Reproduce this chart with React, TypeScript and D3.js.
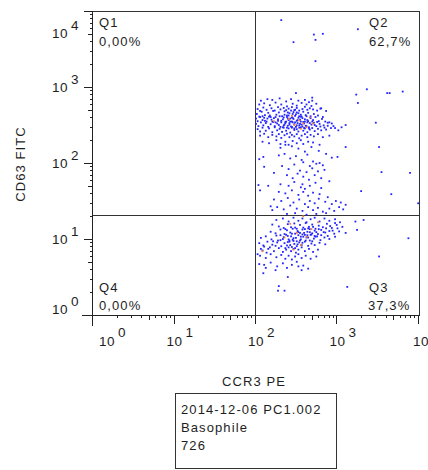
import React from "react";
import * as d3 from "d3";

// ---------- chart text ----------
const xTitle = "CCR3 PE";
const yTitle = "CD63 FITC";
const quadrantNames = ["Q1", "Q2", "Q3", "Q4"];
const quadrantPercents = ["0,00%", "62,7%", "37,3%", "0,00%"];
const infoLines = ["2014-12-06 PC1.002", "Basophile", "726"];

// ---------- axes ----------
const xDecades = [0, 1, 2, 3, 4];
const yDecades = [0, 1, 2, 3, 4];
const gateX = 97; // CCR3 PE quadrant gate
const gateY = 20.7; // CD63 FITC quadrant gate

// ---------- events, as log10 exponents [CCR3 PE, CD63 FITC] ----------
const sparseEvents: [number, number][] = [
  [2.31, 3.88], [3.25, 3.76], [2.71, 3.69], [2.82, 3.70], [2.46, 3.59], [2.73, 3.62],
  [2.73, 3.34], [2.49, 2.92], [3.36, 2.97], [3.23, 2.90], [3.61, 2.92], [3.64, 2.92],
  [3.80, 2.94], [3.25, 2.79], [2.69, 2.82], [3.47, 2.53], [3.10, 2.21], [3.51, 2.21],
  [2.09, 2.08], [3.54, 1.88], [3.89, 1.87], [2.22, 1.87], [2.03, 1.71], [3.29, 1.63],
  [3.66, 1.59], [3.99, 1.47], [2.18, 1.43], [2.20, 1.38], [2.05, 1.64], [3.32, 1.25],
  [3.22, 1.23], [3.87, 1.01], [3.24, 1.12], [3.51, 0.77], [3.12, 0.37], [2.28, 0.38],
  [2.35, 0.32], [2.27, 0.32], [2.39, 0.50], [2.04, 0.67], [2.09, 0.55], [2.12, 0.62],
  [2.24, 0.59], [2.52, 0.64], [2.56, 0.59],
];

const upperEvents: [number, number][] = [
  [2.06, 2.82], [2.14, 2.84], [2.20, 2.83], [2.29, 2.85], [2.37, 2.81], [2.43, 2.84], [2.52, 2.82], [2.60, 2.83], [2.65, 2.80], [2.69, 2.86],
  [2.04, 2.77], [2.10, 2.785], [2.17, 2.76], [2.24, 2.795], [2.31, 2.77], [2.38, 2.745], [2.45, 2.78], [2.50, 2.755], [2.56, 2.79], [2.62, 2.77], [2.68, 2.75], [2.74, 2.78], [2.80, 2.72],
  [2.02, 2.71], [2.05, 2.685], [2.09, 2.73], [2.13, 2.70], [2.19, 2.72], [2.23, 2.69], [2.27, 2.735], [2.30, 2.705], [2.34, 2.725], [2.37, 2.695], [2.40, 2.715], [2.44, 2.735],
  [2.47, 2.695], [2.50, 2.725], [2.53, 2.69], [2.57, 2.71], [2.60, 2.74], [2.63, 2.70], [2.66, 2.72], [2.70, 2.705], [2.75, 2.69], [2.79, 2.715], [2.86, 2.685],
  [2.01, 2.645], [2.04, 2.61], [2.07, 2.675], [2.11, 2.63], [2.15, 2.66], [2.18, 2.605], [2.21, 2.685], [2.25, 2.635], [2.28, 2.665], [2.32, 2.615], [2.35, 2.68], [2.38, 2.625],
  [2.41, 2.655], [2.44, 2.60], [2.46, 2.67], [2.49, 2.64], [2.52, 2.655], [2.55, 2.61], [2.58, 2.675], [2.61, 2.63], [2.64, 2.66], [2.67, 2.615], [2.71, 2.645], [2.76, 2.625], [2.82, 2.605],
  [2.00, 2.585], [2.02, 2.55], [2.05, 2.605], [2.08, 2.565], [2.10, 2.595], [2.13, 2.545], [2.16, 2.61], [2.19, 2.57], [2.22, 2.59], [2.24, 2.535], [2.27, 2.575], [2.29, 2.615],
  [2.31, 2.555], [2.34, 2.60], [2.36, 2.54], [2.38, 2.605], [2.40, 2.565], [2.42, 2.585], [2.44, 2.545], [2.46, 2.58], [2.48, 2.62], [2.50, 2.555], [2.52, 2.595], [2.54, 2.57],
  [2.56, 2.61], [2.58, 2.54], [2.60, 2.575], [2.62, 2.615], [2.64, 2.55], [2.67, 2.59], [2.70, 2.565], [2.73, 2.605], [2.77, 2.55], [2.81, 2.58], [2.85, 2.545], [2.90, 2.535],
  [2.00, 2.515], [2.03, 2.485], [2.06, 2.535], [2.09, 2.495], [2.12, 2.525], [2.15, 2.475], [2.18, 2.51], [2.21, 2.54], [2.23, 2.485], [2.26, 2.52], [2.28, 2.50], [2.31, 2.535],
  [2.33, 2.47], [2.35, 2.505], [2.37, 2.545], [2.39, 2.49], [2.41, 2.525], [2.43, 2.48], [2.45, 2.535], [2.47, 2.51], [2.49, 2.475], [2.51, 2.525], [2.53, 2.495], [2.55, 2.545],
  [2.57, 2.48], [2.59, 2.52], [2.61, 2.49], [2.63, 2.535], [2.65, 2.47], [2.68, 2.505], [2.71, 2.53], [2.74, 2.485], [2.78, 2.515], [2.83, 2.495], [2.88, 2.53], [2.95, 2.485],
  [2.02, 2.445], [2.05, 2.415], [2.08, 2.465], [2.12, 2.425], [2.16, 2.455], [2.20, 2.405], [2.23, 2.47], [2.26, 2.43], [2.29, 2.45], [2.32, 2.41], [2.34, 2.465], [2.37, 2.425],
  [2.40, 2.455], [2.42, 2.40], [2.44, 2.465], [2.47, 2.435], [2.50, 2.445], [2.52, 2.415], [2.55, 2.47], [2.58, 2.425], [2.60, 2.455], [2.63, 2.405], [2.66, 2.44], [2.69, 2.46],
  [2.72, 2.42], [2.76, 2.45], [2.80, 2.43], [2.86, 2.44], [2.92, 2.46], [3.01, 2.43],
  [2.05, 2.36], [2.10, 2.385], [2.15, 2.34], [2.20, 2.37], [2.25, 2.35], [2.28, 2.38], [2.31, 2.33], [2.35, 2.365], [2.38, 2.385], [2.41, 2.34], [2.44, 2.37], [2.47, 2.35],
  [2.50, 2.38], [2.53, 2.325], [2.56, 2.36], [2.60, 2.38], [2.63, 2.34], [2.67, 2.37], [2.71, 2.35], [2.76, 2.38], [2.82, 2.34], [2.90, 2.36],
  [2.08, 2.28], [2.16, 2.26], [2.25, 2.30], [2.30, 2.25], [2.36, 2.28], [2.40, 2.24], [2.45, 2.29], [2.50, 2.26], [2.55, 2.30], [2.58, 2.25], [2.64, 2.28], [2.70, 2.27], [2.78, 2.24],
  [2.33, 2.575], [2.36, 2.525], [2.39, 2.585], [2.42, 2.545], [2.45, 2.595], [2.48, 2.535], [2.51, 2.565], [2.54, 2.515], [2.57, 2.59], [2.60, 2.545], [2.63, 2.565], [2.66, 2.525],
  [2.34, 2.495], [2.38, 2.465], [2.41, 2.505], [2.44, 2.475], [2.47, 2.455], [2.50, 2.495], [2.53, 2.465], [2.56, 2.505], [2.59, 2.46], [2.62, 2.485], [2.65, 2.455], [2.30, 2.475],
  [2.27, 2.555], [2.24, 2.605], [2.20, 2.545], [2.17, 2.625], [2.14, 2.585], [2.11, 2.555], [2.08, 2.615], [2.35, 2.635], [2.40, 2.625], [2.45, 2.645], [2.50, 2.665], [2.55, 2.635],
  [2.43, 2.69], [2.39, 2.665], [2.48, 2.70], [2.53, 2.615], [2.69, 2.545], [2.72, 2.50], [2.75, 2.54], [2.79, 2.48], [2.84, 2.465], [2.88, 2.49], [2.93, 2.52], [2.97, 2.46],
  [3.05, 2.47], [3.10, 2.50],
];

const streamEvents: [number, number][] = [
  [2.30, 2.20], [2.36, 2.24], [2.44, 2.22], [2.52, 2.19], [2.60, 2.15], [2.68, 2.21], [2.77, 2.16], [2.86, 2.12], [2.93, 2.07], [3.00, 2.08],
  [2.28, 2.10], [2.35, 2.12], [2.42, 2.06], [2.49, 2.09], [2.56, 2.04], [2.63, 2.11], [2.70, 2.02], [2.74, 1.99], [2.78, 2.00], [2.82, 1.97], [2.66, 1.96], [2.58, 2.01],
  [2.32, 1.96], [2.40, 1.92], [2.47, 1.98], [2.54, 1.90], [2.62, 1.88], [2.69, 1.93], [2.76, 1.89], [2.84, 1.91],
  [2.38, 1.84], [2.45, 1.80], [2.51, 1.86], [2.58, 1.82], [2.65, 1.78], [2.72, 1.84], [2.80, 1.80], [2.90, 1.76],
  [2.30, 1.72], [2.40, 1.70], [2.47, 1.75], [2.55, 1.68], [2.57, 1.72], [2.60, 1.66], [2.66, 1.70], [2.73, 1.74], [2.80, 1.67], [2.15, 1.70],
  [2.28, 1.62], [2.36, 1.60], [2.44, 1.64], [2.52, 1.58], [2.58, 1.62], [2.64, 1.57], [2.70, 1.61], [2.78, 1.59], [2.88, 1.55],
  [2.22, 1.52], [2.31, 1.50], [2.39, 1.54], [2.46, 1.48], [2.53, 1.52], [2.60, 1.46], [2.66, 1.50], [2.72, 1.47], [2.77, 1.53], [2.85, 1.49], [2.93, 1.46], [2.98, 1.50],
  [3.04, 1.48], [3.10, 1.45],
  [2.26, 1.42], [2.34, 1.39], [2.42, 1.44], [2.50, 1.40], [2.57, 1.37], [2.64, 1.42], [2.70, 1.38], [2.76, 1.41], [2.82, 1.36], [2.90, 1.40], [2.96, 1.37], [3.02, 1.42],
  [3.07, 1.39], [2.38, 1.33], [2.48, 1.34], [2.62, 1.32], [2.74, 1.33], [2.86, 1.34], [2.04, 2.05], [2.10, 1.95],
];

const lowerEvents: [number, number][] = [
  [2.25, 1.25], [2.33, 1.27], [2.40, 1.23], [2.46, 1.28], [2.52, 1.24], [2.57, 1.27], [2.62, 1.22], [2.67, 1.26], [2.72, 1.28], [2.78, 1.23], [2.84, 1.27], [2.90, 1.24],
  [2.97, 1.26], [3.03, 1.22],
  [2.28, 1.165], [2.34, 1.145], [2.39, 1.195], [2.43, 1.155], [2.47, 1.205], [2.50, 1.135], [2.54, 1.185], [2.58, 1.15], [2.61, 1.21], [2.65, 1.16], [2.69, 1.19], [2.73, 1.135],
  [2.77, 1.175], [2.82, 1.155], [2.87, 1.20], [2.93, 1.145], [2.99, 1.185], [3.06, 1.16], [2.20, 1.19],
  [2.18, 1.095], [2.24, 1.075], [2.30, 1.125], [2.35, 1.065], [2.38, 1.115], [2.42, 1.085], [2.45, 1.135], [2.48, 1.07], [2.51, 1.105], [2.54, 1.08], [2.57, 1.125], [2.60, 1.055],
  [2.63, 1.095], [2.66, 1.13], [2.69, 1.075], [2.72, 1.11], [2.76, 1.065], [2.80, 1.12], [2.85, 1.085], [2.90, 1.105], [2.96, 1.07], [3.02, 1.10], [3.10, 1.08],
  [2.06, 1.015], [2.12, 1.035], [2.19, 0.995], [2.25, 1.045], [2.30, 0.985], [2.34, 1.025], [2.37, 1.055], [2.40, 0.995], [2.43, 1.035], [2.46, 0.975], [2.49, 1.015], [2.52, 1.05],
  [2.55, 0.995], [2.58, 1.03], [2.61, 0.98], [2.64, 1.02], [2.67, 1.055], [2.71, 1.005], [2.75, 1.035], [2.79, 0.985], [2.84, 1.02], [2.90, 1.00], [2.97, 1.03],
  [2.04, 0.945], [2.09, 0.915], [2.14, 0.965], [2.20, 0.925], [2.26, 0.955], [2.31, 0.905], [2.35, 0.945], [2.38, 0.915], [2.41, 0.965], [2.44, 0.895], [2.47, 0.935], [2.50, 0.905],
  [2.53, 0.955], [2.56, 0.92], [2.60, 0.965], [2.64, 0.91], [2.68, 0.94], [2.72, 0.92], [2.78, 0.95], [2.85, 0.93],
  [2.08, 0.85], [2.15, 0.87], [2.22, 0.84], [2.28, 0.88], [2.33, 0.83], [2.37, 0.86], [2.40, 0.89], [2.43, 0.84], [2.46, 0.87], [2.49, 0.82], [2.52, 0.86], [2.56, 0.89],
  [2.60, 0.84], [2.65, 0.87], [2.70, 0.83], [2.76, 0.86],
  [2.05, 0.78], [2.12, 0.75], [2.18, 0.80], [2.25, 0.76], [2.31, 0.79], [2.36, 0.74], [2.40, 0.78], [2.44, 0.73], [2.48, 0.77], [2.52, 0.80], [2.56, 0.75], [2.61, 0.78],
  [2.67, 0.74], [2.74, 0.77],
  [2.10, 0.66], [2.18, 0.69], [2.26, 0.64], [2.33, 0.68], [2.38, 0.62], [2.44, 0.66], [2.50, 0.70], [2.58, 0.65], [2.64, 0.61],
  [2.36, 1.13], [2.39, 1.04], [2.41, 0.98], [2.44, 1.07], [2.46, 1.01], [2.48, 1.15], [2.50, 0.97], [2.52, 1.09], [2.55, 1.03], [2.57, 0.95], [2.59, 1.08], [2.62, 1.02],
  [2.64, 1.14], [2.66, 0.98], [2.68, 1.06], [2.70, 1.16], [2.73, 1.03], [2.36, 0.88], [2.39, 0.96], [2.42, 0.92], [2.45, 0.99], [2.48, 0.88], [2.51, 0.93], [2.54, 0.98],
  [2.57, 1.06], [2.60, 1.13], [2.63, 1.05], [2.66, 1.09], [2.69, 0.97], [2.72, 1.04], [2.74, 1.09], [2.77, 1.13], [2.80, 1.05], [2.83, 1.09], [2.86, 1.14], [2.88, 1.04],
  [2.91, 1.17], [2.94, 1.11], [2.97, 1.21], [3.00, 1.14], [2.33, 1.00], [2.30, 1.05], [2.27, 0.98], [2.24, 0.91], [2.21, 0.97], [2.17, 0.89], [2.13, 0.82], [2.10, 0.90],
  [2.06, 0.87], [2.02, 0.80],
];

// overlapping (high-density) events drawn in orange
const denseEvents: [number, number][] = [
  [2.40, 2.58], [2.47, 2.50], [2.53, 2.56], [2.58, 2.52], [2.62, 2.47], [2.44, 2.62], [2.55, 2.45], [2.66, 2.60], [2.22, 2.55], [2.70, 2.52],
  [2.42, 1.20], [2.50, 1.08], [2.55, 0.92], [2.62, 1.03], [2.68, 1.13], [2.35, 1.02], [2.46, 0.86], [2.76, 1.22], [2.08, 0.84], [2.58, 1.30],
];

// ---------- layout ----------
const W = 428;
const H = 470;
const left = 93;
const right = 419;
const top = 11;
const bottom = 315;
const FONT = "'Liberation Sans', Arial, sans-serif";
const INK = "#1e1e1e";

export default function App() {
  const x = d3.scaleLog().domain([1, 1e4]).range([left, right]);
  const y = d3.scaleLog().domain([1, 1e4]).range([bottom, top]);

  const minorValues = d3.range(0, 4).flatMap((d) => d3.range(2, 10).map((m) => m * 10 ** d));

  const blueDots = [...sparseEvents, ...upperEvents, ...streamEvents, ...lowerEvents];

  const dot = (e: [number, number], color: string, i: number) => (
    <rect
      key={color + i}
      x={x(10 ** e[0]) - 0.9}
      y={y(10 ** e[1]) - 0.9}
      width={1.8}
      height={1.8}
      fill={color}
    />
  );

  const txt = { fontFamily: FONT, fontSize: 13, fill: INK, letterSpacing: 1.1 } as const;
  const tick = { fontFamily: FONT, fontSize: 13.5, fill: INK, letterSpacing: 0.5 } as const;

  const gx = Math.round(x(gateX)) + 0.5;
  const gy = Math.round(y(gateY)) + 0.5;

  return (
    <svg
      width={W}
      height={H}
      style={{ position: "absolute", left: 0, top: 0, background: "#fff" }}
    >
      {/* frame */}
      <rect x={left - 0.5} y={top + 0.5} width={right - left + 1} height={bottom - top} fill="none" stroke="#333" strokeWidth={1} />
      {/* quadrant gates */}
      <line x1={gx} x2={gx} y1={top} y2={bottom} stroke="#333" />
      <line x1={left} x2={right} y1={gy} y2={gy} stroke="#333" />

      {/* y axis */}
      <line x1={left - 0.5} x2={left - 0.5} y1={top} y2={bottom + 11} stroke="#222" />
      {yDecades.map((d) => (
        <line key={"ym" + d} x1={left - 9} x2={left} y1={Math.round(y(10 ** d)) + 0.5} y2={Math.round(y(10 ** d)) + 0.5} stroke="#222" />
      ))}
      {minorValues.map((v, i) => (
        <line key={"yn" + i} x1={left - (String(v)[0] === "5" ? 5 : 3)} x2={left} y1={Math.round(y(v)) + 0.5} y2={Math.round(y(v)) + 0.5} stroke="#222" />
      ))}
      {yDecades.map((d) => {
        const ty = Math.min(Math.max(y(10 ** d), 33), 309);
        return (
          <g key={"yl" + d}>
            <text x={68} y={ty + 5} textAnchor="end" {...tick}>10</text>
            <text x={71} y={ty - 3} {...tick}>{d}</text>
          </g>
        );
      })}

      {/* x axis */}
      <line x1={left - 11} x2={right + 1} y1={bottom + 0.5} y2={bottom + 0.5} stroke="#222" />
      {xDecades.map((d) => (
        <line key={"xm" + d} x1={Math.round(x(10 ** d)) - 0.5} x2={Math.round(x(10 ** d)) - 0.5} y1={bottom} y2={bottom + 9} stroke="#222" />
      ))}
      {minorValues.map((v, i) => (
        <line key={"xn" + i} x1={Math.round(x(v)) - 0.5} x2={Math.round(x(v)) - 0.5} y1={bottom} y2={bottom + (String(v)[0] === "5" ? 5 : 3)} stroke="#222" />
      ))}
      {xDecades.map((d) => {
        const tx = Math.max(x(10 ** d), 107) + (d === 4 ? 2 : 0);
        return (
          <g key={"xl" + d}>
            <text x={tx} y={346} textAnchor="middle" {...tick}>10</text>
            <text x={tx + 11} y={337} {...tick}>{d}</text>
          </g>
        );
      })}

      {/* events */}
      {blueDots.map((e, i) => dot(e, "#2424ff", i))}
      {denseEvents.map((e, i) => dot(e, "#f0803c", i))}

      {/* quadrant labels */}
      <text x={99} y={27} {...txt}>{quadrantNames[0]}</text>
      <text x={99} y={46} {...txt}>{quadrantPercents[0]}</text>
      <text x={369} y={27} {...txt}>{quadrantNames[1]}</text>
      <text x={369} y={46} {...txt}>{quadrantPercents[1]}</text>
      <text x={369} y={292} {...txt}>{quadrantNames[2]}</text>
      <text x={368} y={310} {...txt}>{quadrantPercents[2]}</text>
      <text x={99} y={292} {...txt}>{quadrantNames[3]}</text>
      <text x={99} y={310} {...txt}>{quadrantPercents[3]}</text>

      {/* axis titles */}
      <text x={(left + right) / 2 - 2} y={386} textAnchor="middle" {...txt}>{xTitle}</text>
      <text transform={`translate(25,${164}) rotate(-90)`} textAnchor="middle" {...txt}>{yTitle}</text>

      {/* info box */}
      <rect x={175.5} y={393.5} width={161} height={75} fill="#fff" stroke="#333" />
      {infoLines.map((line, i) => (
        <text key={"info" + i} x={181} y={414 + i * 18} {...txt}>{line}</text>
      ))}
    </svg>
  );
}
